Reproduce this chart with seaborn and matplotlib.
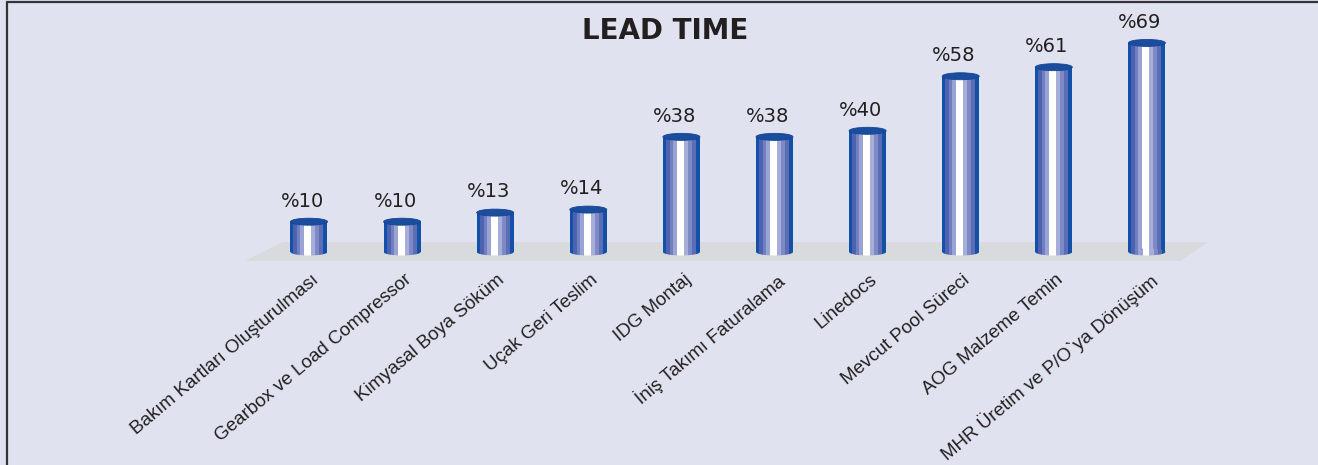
import numpy as np
import matplotlib
matplotlib.use("Agg")
import matplotlib.pyplot as plt
import seaborn as sns
from matplotlib.colors import ListedColormap
from matplotlib.patches import Ellipse, Polygon
from matplotlib.lines import Line2D

# data
categories = [
    "Bakım Kartları Oluşturulması",
    "Gearbox ve Load Compressor",
    "Kimyasal Boya Söküm",
    "Uçak Geri Teslim",
    "IDG Montaj",
    "İniş Takımı Faturalama",
    "Linedocs",
    "Mevcut Pool Süreci",
    "AOG Malzeme Temin",
    "MHR Üretim ve P/O`ya Dönüşüm",
]
values = [10, 10, 13, 14, 38, 38, 40, 58, 61, 69]
title = "LEAD TIME"

# styling
BG = "#e0e2f0"
FLOOR = "#d9dade"
TOP = "#1a4d9e"
stripe_colors = ["#1350a8", "#4d62b0", "#6f7fc0", "#9aa4d4", "#ffffff",
                 "#a6aed9", "#7e8ac6", "#5c6cb5", "#1350a8"]
stripe_widths = [10, 10, 10, 12, 20, 13, 12, 11, 12]

W, H = 1318, 465
PX_X = 93.1     # pixels per category step
PX_Y = 3.03     # pixels per percent
X0, Y0 = 309, 252   # pixel position of first bar centre / baseline
bar_w = 37 / PX_X
ell_h = 7 / PX_Y

sns.set_theme(style="white")
plt.rcParams["font.family"] = ["DejaVu Sans"]

fig = plt.figure(figsize=(W / 100, H / 100), dpi=100, facecolor=BG)
ax = fig.add_axes([0, 0, 1, 1])
ax.set_facecolor(BG)

sns.barplot(x=categories, y=values, width=bar_w, color=TOP, saturation=1, ax=ax)
ax.set_xlim(-X0 / PX_X, (W - X0) / PX_X)
ax.set_ylim(-(H - Y0) / PX_Y, Y0 / PX_Y)
ax.axis("off")

# floor plane
n = len(values)
floor = Polygon([(-0.69, -2.97), (-0.28, 3.3), (n - 1 + 0.66, 3.3), (n - 1 + 0.36, -2.97)],
                closed=True, facecolor=FLOOR, edgecolor="none", zorder=0.5)
ax.add_patch(floor)

# stripe image for the cylinder body
cols = np.concatenate([np.full(w, i) for i, w in enumerate(stripe_widths)])
cmap = ListedColormap(stripe_colors)
img = cols[np.newaxis, :]

for bar, v in zip(ax.patches[:n], values):
    bar.set_facecolor("none")
    bar.set_edgecolor("none")
    x0 = bar.get_x()
    x1 = x0 + bar.get_width()
    xc = (x0 + x1) / 2
    im = ax.imshow(img, cmap=cmap, vmin=-0.5, vmax=len(stripe_colors) - 0.5,
                   extent=(x0, x1, -ell_h, v), aspect="auto",
                   interpolation="nearest", zorder=2)
    im.set_clip_path(bar)
    bottom = Ellipse((xc, 0), bar.get_width(), ell_h, facecolor="none",
                     edgecolor="none", zorder=2)
    ax.add_patch(bottom)
    im2 = ax.imshow(img, cmap=cmap, vmin=-0.5, vmax=len(stripe_colors) - 0.5,
                    extent=(x0, x1, -ell_h, v), aspect="auto",
                    interpolation="nearest", zorder=2)
    im2.set_clip_path(bottom)
    ax.add_patch(Ellipse((xc, v), bar.get_width(), ell_h, facecolor=TOP,
                         edgecolor="#144596", linewidth=0.6, zorder=3))
    ax.text(xc - 0.075, v + 5.0, f"%{v}", ha="center", va="baseline",
            fontsize=14, color="#231f20", zorder=4)

for i, lab in enumerate(categories):
    ax.text(i + 0.02, -6.3, lab, rotation=40, rotation_mode="anchor",
            ha="right", va="top", fontsize=13.5, color="#231f20",
            family=["Liberation Sans", "DejaVu Sans"])

fig.text(665 / W, 1 - 31 / H, title, ha="center", va="center",
         fontsize=20, fontweight="bold", color="#231f20")

# frame: only left and top edges visible
fig.add_artist(Line2D([6.5 / W, 6.5 / W], [0, 1 - 2.5 / H], transform=fig.transFigure,
                      color="#333338", linewidth=1.6))
fig.add_artist(Line2D([6.5 / W, 1], [1 - 2.5 / H, 1 - 2.5 / H], transform=fig.transFigure,
                      color="#333338", linewidth=1.6))

fig.savefig("out.png", dpi=100, facecolor=BG)
